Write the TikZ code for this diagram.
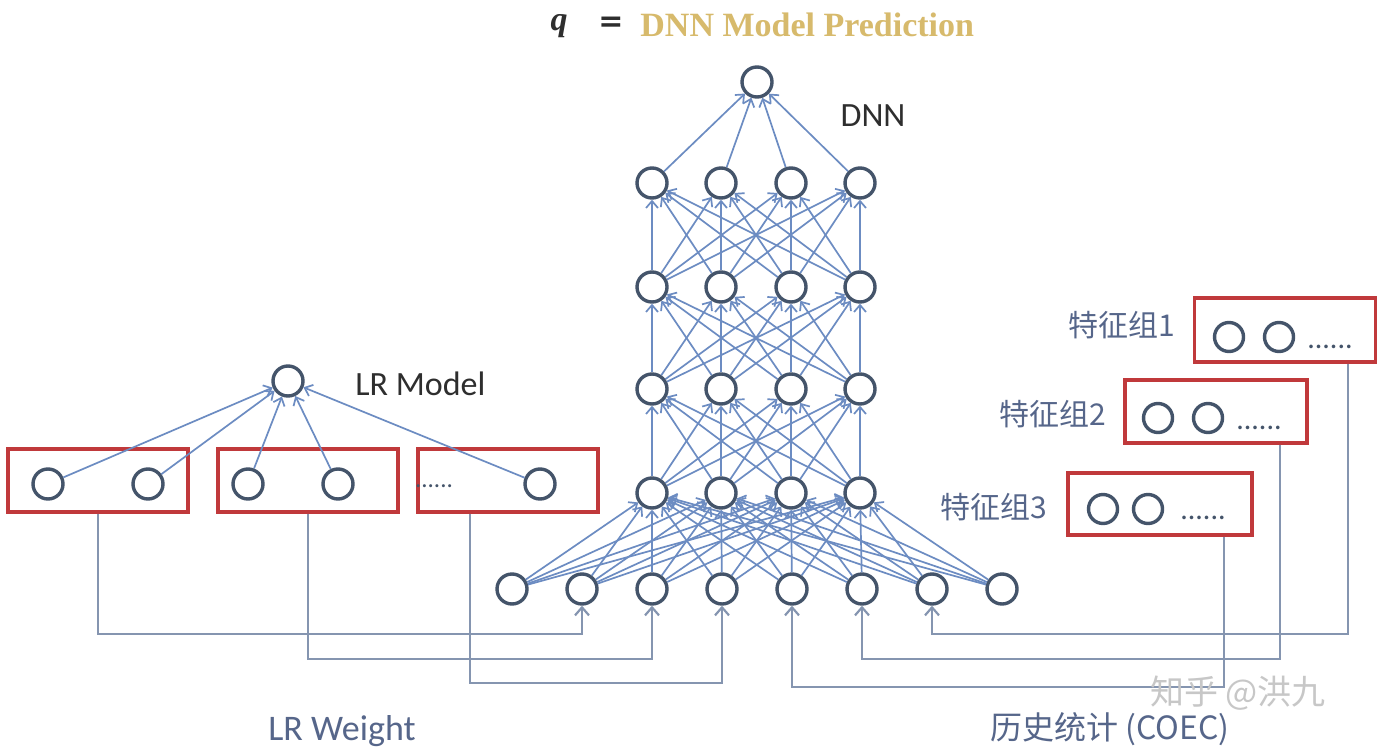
\documentclass[tikz,border=0pt]{standalone}
\usepackage{fontspec}
\setmainfont{Carlito}
\newfontfamily\cjk{Noto Sans CJK SC}
\newfontfamily\titlefont{Liberation Serif}
\newfontfamily\eqfont{DejaVu Sans}
\usetikzlibrary{arrows.meta,calc}
\definecolor{nodec}{HTML}{44546A}
\definecolor{edgec}{HTML}{6C8CC2}
\definecolor{connc}{HTML}{8595B0}
\definecolor{boxc}{HTML}{C0393B}
\definecolor{labc}{HTML}{56668A}
\definecolor{txtc}{HTML}{2E2E2E}
\definecolor{goldc}{HTML}{D7BA6C}
\begin{document}
\begin{tikzpicture}[x=0.5pt,y=-0.5pt,
  neuron/.style={circle,draw=nodec,line width=1.7pt,minimum size=15pt,inner sep=0pt},
  dnnedge/.style={draw=edgec,line width=0.85pt,-{Straight Barb[length=3.5pt,width=6pt]}},
  conn/.style={draw=connc,line width=1.1pt,-{Straight Barb[length=4pt,width=7pt]}},
  redbox/.style={draw=boxc,line width=1.6pt,inner sep=0pt},
  dots/.style={inner sep=0pt,text=nodec},
  lab/.style={text=labc,inner sep=0pt}]
\fill[white] (0,0) rectangle (1384,754);
\useasboundingbox (0,0) rectangle (1384,754);

% title
\node[inner sep=0pt,text=txtc] (q) at (559,26) {\titlefont\bfseries\itshape\fontsize{17}{17}\selectfont q};
\node[inner sep=0pt,text=txtc] (eq) at (611,24) {\eqfont\bfseries\fontsize{15}{15}\selectfont =};
\node[inner sep=0pt,anchor=west,text=goldc] (pred) at (640,25) {\titlefont\bfseries\fontsize{17}{17}\selectfont DNN Model Prediction};

% DNN
\node[neuron] (top) at (757,82) {};
\node[inner sep=0pt,text=txtc] (dnnlab) at (873,116) {\fontsize{17}{17}\selectfont DNN};
\foreach \i/\x in {1/652,2/721,3/791,4/860} {
  \node[neuron] (a\i) at (\x,183) {};
  \node[neuron] (b\i) at (\x,287) {};
  \node[neuron] (c\i) at (\x,389) {};
  \node[neuron] (d\i) at (\x,493) {};
}
\foreach \i in {1,...,8} \node[neuron] (in\i) at ({442+70*\i},589) {};

\foreach \i in {1,...,4} \draw[dnnedge] (a\i) -- (top);
\foreach \i in {1,...,4} \foreach \j in {1,...,4} {
  \draw[dnnedge] (b\i) -- (a\j);
  \draw[dnnedge] (c\i) -- (b\j);
  \draw[dnnedge] (d\i) -- (c\j);
}
\foreach \i in {1,...,8} \foreach \j in {1,...,4} \draw[dnnedge] (in\i) -- (d\j);

% LR model
\node[neuron] (lr) at (288,381) {};
\node[inner sep=0pt,anchor=west,text=txtc] (lrlab) at (355,384) {\fontsize{17}{17}\selectfont LR Model};
\node[redbox,minimum width=90pt,minimum height=31.5pt] (B1) at (98,480.5) {};
\node[redbox,minimum width=90pt,minimum height=31.5pt] (B2) at (308,480.5) {};
\node[redbox,minimum width=90pt,minimum height=31.5pt] (B3) at (508,480.5) {};
\node[neuron] (l1) at (48,484) {};
\node[neuron] (l2) at (148,484) {};
\node[neuron] (l3) at (248,484) {};
\node[neuron] (l4) at (338,484) {};
\node[neuron] (l5) at (540,484) {};
\node[dots] (ld) at (434,486) {\fontsize{12.5}{12.5}\selectfont ......};
\foreach \i in {1,...,5} \draw[dnnedge] (l\i) -- (lr);

% feature groups
\node[redbox,minimum width=90.5pt,minimum height=32pt] (G1) at (1285,330) {};
\node[redbox,minimum width=91pt,minimum height=31.5pt] (G2) at (1216,411.5) {};
\node[redbox,minimum width=92pt,minimum height=31pt] (G3) at (1160,504) {};
\node[neuron,minimum size=14.5pt] (g11) at (1229,337) {};
\node[neuron,minimum size=14.5pt] (g12) at (1279,337) {};
\node[dots] (g1d) at (1330,347) {\fontsize{15}{15}\selectfont ......};
\node[neuron,minimum size=14.5pt] (g21) at (1158,418) {};
\node[neuron,minimum size=14.5pt] (g22) at (1208,418) {};
\node[dots] (g2d) at (1259,428) {\fontsize{15}{15}\selectfont ......};
\node[neuron,minimum size=14.5pt] (g31) at (1103,509) {};
\node[neuron,minimum size=14.5pt] (g32) at (1148,509) {};
\node[dots] (g3d) at (1203,518) {\fontsize{15}{15}\selectfont ......};
\node[lab,anchor=east] (gl1) at (1176,325) {\cjk\fontsize{15}{15}\selectfont 特征组1};
\node[lab,anchor=east] (gl2) at (1107,414) {\cjk\fontsize{15}{15}\selectfont 特征组2};
\node[lab,anchor=east] (gl3) at (1048,507) {\cjk\fontsize{15}{15}\selectfont 特征组3};

% connectors
\draw[conn] (B1.south) |- (in2.south |- 0,634) -- (in2.south);
\draw[conn] (B2.south) |- (in3.south |- 0,659) -- (in3.south);
\draw[conn] ([xshift=-19pt]B3.south) |- (in4.south |- 0,683) -- (in4.south);
\draw[conn] ([xshift=-14.5pt]G1.south east) |- (in7.south |- 0,634) -- (in7.south);
\draw[conn] ([xshift=-14.5pt]G2.south east) |- (in6.south |- 0,659) -- (in6.south);
\draw[conn] ([xshift=-15pt]G3.south east) |- (in5.south |- 0,687) -- (in5.south);

% bottom labels
\node[lab] (lrw) at (342,731) {\fontsize{18}{18}\selectfont LR Weight};
\node[lab] (coec) at (1110,729) {\cjk\fontsize{16}{16}\selectfont 历史统计 (COEC)};
\node[inner sep=0pt,text=black!22] (wm) at (1238,693) {\cjk\fontsize{17}{17}\selectfont 知乎 @洪九};
\end{tikzpicture}
\end{document}
